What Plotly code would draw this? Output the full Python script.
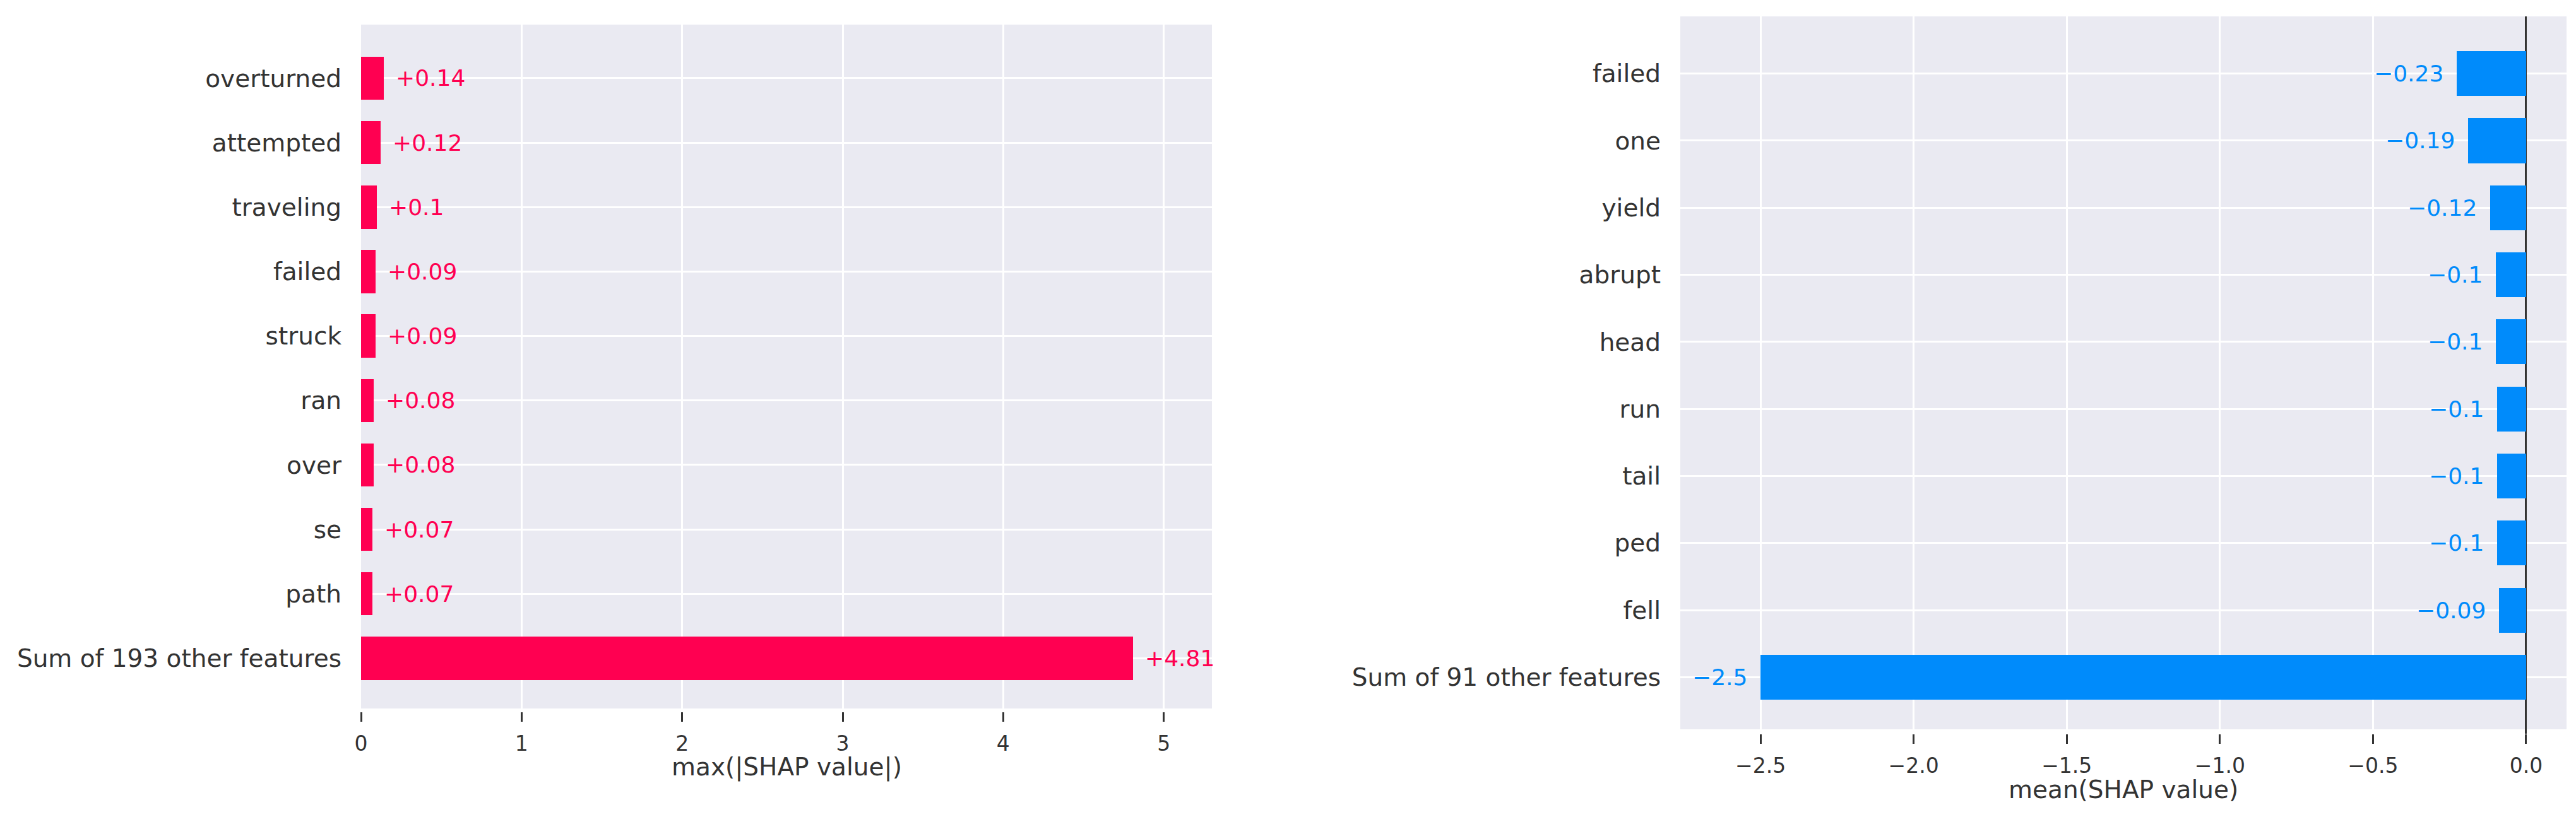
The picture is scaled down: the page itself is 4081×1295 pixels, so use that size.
import plotly.graph_objects as go

# ---------------- data ----------------
left_features = ["overturned", "attempted", "traveling", "failed", "struck",
                 "ran", "over", "se", "path", "Sum of 193 other features"]
left_values = [0.14, 0.12, 0.10, 0.09, 0.09, 0.08, 0.08, 0.07, 0.07, 4.81]
left_labels = ["+0.14", "+0.12", "+0.1", "+0.09", "+0.09", "+0.08", "+0.08",
               "+0.07", "+0.07", "+4.81"]
left_xticks = [0, 1, 2, 3, 4, 5]
left_xtick_text = ["0", "1", "2", "3", "4", "5"]
left_xtitle = "max(|SHAP value|)"

right_features = ["failed", "one", "yield", "abrupt", "head", "run", "tail",
                  "ped", "fell", "Sum of 91 other features"]
right_values = [-0.227, -0.19, -0.117, -0.098, -0.098, -0.094, -0.094,
                -0.094, -0.089, -2.5]
right_labels = ["\u22120.23", "\u22120.19", "\u22120.12", "\u22120.1",
                "\u22120.1", "\u22120.1", "\u22120.1", "\u22120.1",
                "\u22120.09", "\u22122.5"]
right_xticks = [-2.5, -2.0, -1.5, -1.0, -0.5, 0.0]
right_xtick_text = ["\u22122.5", "\u22122.0", "\u22121.5", "\u22121.0",
                    "\u22120.5", "0.0"]
right_xtitle = "mean(SHAP value)"

# ---------------- style ----------------
W, H = 4081, 1295
RED = "#ff0051"
BLUE = "#008bfb"
BG = "#EAEAF2"
TXT = "#333333"
FONT = "DejaVu Sans"

def px_x(p):
    return p / W

def px_y(p):
    return 1 - p / H

# plot boxes in pixels (left, top, right, bottom incl. tick gap)
L = dict(l=564, t=31, r=1912, b=1120, gb=1115)
R = dict(l=2654, t=18, r=4058, b=1155, gb=1148)

fig = go.Figure()

rows_l = list(range(len(left_features)))
rows_r = list(range(len(right_features)))

fig.add_trace(go.Bar(x=left_values, y=rows_l, orientation="h", width=0.67,
                     marker=dict(color=RED, line=dict(width=0)),
                     xaxis="x", yaxis="y", showlegend=False, hoverinfo="skip"))
fig.add_trace(go.Bar(x=right_values, y=rows_r, orientation="h", width=0.67,
                     marker=dict(color=BLUE, line=dict(width=0)),
                     xaxis="x2", yaxis="y2", showlegend=False, hoverinfo="skip"))

# grey plotting backgrounds (below gridlines)
fig.add_shape(type="rect", xref="x domain", yref="y domain",
              x0=0, x1=1, y0=(L["b"] - L["gb"]) / (L["b"] - L["t"]), y1=1,
              fillcolor=BG, line=dict(width=0), layer="below")
fig.add_shape(type="rect", xref="x2 domain", yref="y2 domain",
              x0=0, x1=1, y0=(R["b"] - R["gb"]) / (R["b"] - R["t"]), y1=1,
              fillcolor=BG, line=dict(width=0), layer="below")

# value labels
for v, r, t in zip(left_values, rows_l, left_labels):
    fig.add_annotation(x=v, y=r, xref="x", yref="y", text=t, showarrow=False,
                       xanchor="left", yanchor="middle", xshift=17,
                       font=dict(family=FONT, size=36, color=RED))
for v, r, t in zip(right_values, rows_r, right_labels):
    fig.add_annotation(x=v, y=r, xref="x2", yref="y2", text=t, showarrow=False,
                       xanchor="right", yanchor="middle", xshift=-19,
                       font=dict(family=FONT, size=36, color=BLUE))

# axis titles
fig.add_annotation(x=px_x((L["l"] + L["r"]) / 2), y=px_y(1208), xref="paper",
                   yref="paper", text=left_xtitle, showarrow=False,
                   xanchor="center", yanchor="middle",
                   font=dict(family=FONT, size=39, color=TXT))
fig.add_annotation(x=px_x((R["l"] + R["r"]) / 2), y=px_y(1243), xref="paper",
                   yref="paper", text=right_xtitle, showarrow=False,
                   xanchor="center", yanchor="middle",
                   font=dict(family=FONT, size=39, color=TXT))

xaxis_common = dict(showline=False, showgrid=True,
                    gridcolor="white", gridwidth=3, ticks="outside",
                    ticklen=15, tickwidth=3, tickcolor=TXT,
                    tickfont=dict(family=FONT, size=33, color=TXT),
                    ticklabelstandoff=6, automargin=False, fixedrange=True)
yaxis_common = dict(showline=False, zeroline=False, showgrid=True,
                    gridcolor="white", gridwidth=3, ticks="",
                    tickfont=dict(family=FONT, size=39, color=TXT),
                    ticklabelstandoff=30, automargin=False, fixedrange=True)

fig.update_layout(
    width=W, height=H,
    margin=dict(l=0, r=0, t=0, b=0),
    paper_bgcolor="white", plot_bgcolor="rgba(0,0,0,0)",
    bargap=0, showlegend=False,
    xaxis=dict(domain=[px_x(L["l"]), px_x(L["r"])], range=[0, 5.3],
               tickvals=left_xticks, ticktext=left_xtick_text, anchor="y",
               zeroline=False, **xaxis_common),
    yaxis=dict(domain=[px_y(L["b"]), px_y(L["t"])], range=[9.829, -0.832],
               tickvals=rows_l, ticktext=left_features, anchor="x",
               **yaxis_common),
    xaxis2=dict(domain=[px_x(R["l"]), px_x(R["r"])], range=[-2.762, 0.132],
                tickvals=right_xticks, ticktext=right_xtick_text, anchor="y2",
                zeroline=True, zerolinecolor=TXT, zerolinewidth=3,
                **xaxis_common),
    yaxis2=dict(domain=[px_y(R["b"]), px_y(R["t"])], range=[9.842, -0.852],
                tickvals=rows_r, ticktext=right_features, anchor="x2",
                **yaxis_common),
)

fig.write_html("out.html")
